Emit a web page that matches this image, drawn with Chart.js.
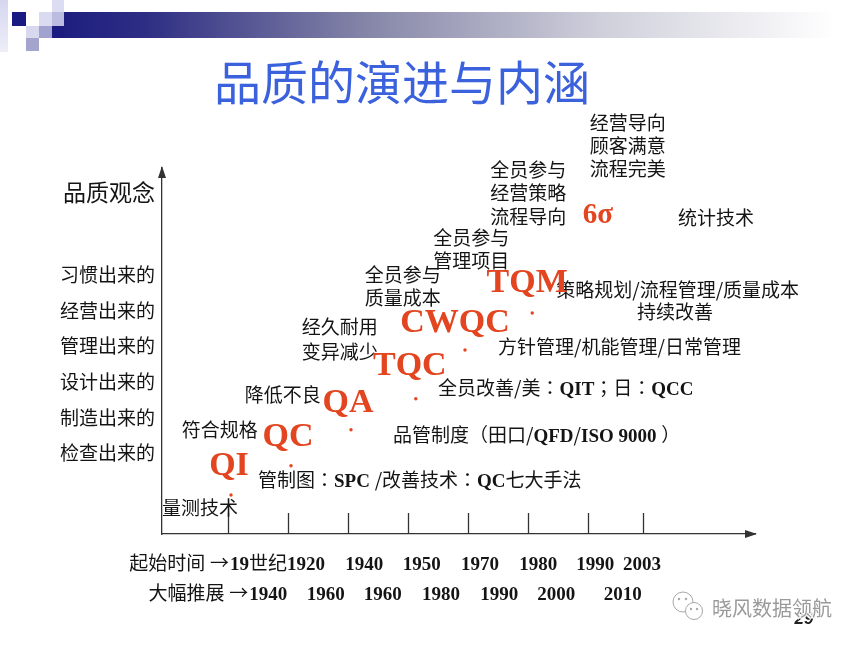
<!DOCTYPE html>
<html><head><meta charset="utf-8">
<script src="https://cdn.jsdelivr.net/npm/chart.js@4.4.0/dist/chart.umd.min.js"></script>
<style>html,body{margin:0;padding:0;background:#fff;}canvas{display:block;}</style>
</head><body>
<canvas id="c" width="864" height="647"></canvas>
<script>
// ---------- data ----------
const titleText = '品质的演进与内涵';
const conceptTitle = '品质观念';
const conceptLevels = ['检查出来的','制造出来的','设计出来的','管理出来的','经营出来的','习惯出来的'];
const stages = ['QI','QC','QA','TQC','CWQC','TQM','6σ'];
const stageX = [1.05, 2.05, 3.05, 4.13, 4.95, 6.07, 7.23];
const stageY = [-0.18, 0.64, 1.65, 2.52, 3.89, 4.93, 6.9];
const timeTicks = [1, 2, 3, 4, 5, 6, 7, 7.92];
const startPrefix = '起始时间 →';
const startLabels = ['19世纪','1920','1940','1950','1970','1980','1990','2003'];
const startLabelX = [1.51, 2.3, 3.27, 4.23, 5.2, 6.17, 7.12, 7.9];
const spreadPrefix = '大幅推展 →';
const spreadLabels = ['1940','1960','1960','1980','1990','2000','2010'];
const spreadLabelX = [1.67, 2.63, 3.58, 4.55, 5.52, 6.47, 7.58];
const notes = [
  ['量测技术', -0.1, -0.54],
  ['管制图：SPC /改善技术：QC七大手法', 1.5, 0.24],
  ['符合规格', 0.23, 1.65],
  ['品管制度（田口/QFD/ISO 9000 ）', 3.75, 1.5],
  ['降低不良', 1.28, 2.63],
  ['全员改善/美：QIT；日：QCC', 4.5, 2.83],
  ['经久耐用', 2.23, 4.54],
  ['变异减少', 2.23, 3.84],
  ['方针管理/机能管理/日常管理', 5.5, 3.98],
  ['全员参与', 3.28, 6.0],
  ['质量成本', 3.28, 5.35],
  ['策略规划/流程管理/质量成本', 6.47, 5.58],
  ['持续改善', 8.45, 4.96, 'center'],
  ['全员参与', 4.42, 7.04],
  ['管理项目', 4.42, 6.39],
  ['全员参与', 5.37, 8.95],
  ['经营策略', 5.37, 8.3],
  ['流程导向', 5.37, 7.63],
  ['经营导向', 7.03, 10.26],
  ['顾客满意', 7.03, 9.62],
  ['流程完美', 7.03, 8.97],
  ['统计技术', 8.5, 7.6]
];

// ---------- style ----------
const RED = '#e2451f';
const INK = '#141414';
const CJK = '"Noto Sans CJK SC"';
const PUNCT = '"Noto Sans CJK TC"';
const SERIF = '"Liberation Serif"';
const stageLabelOffset = [[-2,-20],[-3,-20],[-3,-18],[-6,-24],[-10,-18],[-5,-21],[-4,-20]];

function kind(ch) {
  if (/[A-Za-z0-9 .]/.test(ch)) return 'lat';
  if (/[：；]/.test(ch)) return 'pun';
  return 'cjk';
}
function fontFor(k, size) {
  if (k === 'lat') return `bold ${size}px ${SERIF}`;
  if (k === 'pun') return `${size}px ${PUNCT}`;
  return `${size}px ${CJK}`;
}
function runs(text) {
  const out = [];
  for (const ch of text) {
    const k = kind(ch);
    if (out.length && out[out.length-1].k === k) out[out.length-1].t += ch;
    else out.push({k, t: ch});
  }
  return out;
}
function richWidth(ctx, text, size) {
  let w = 0;
  for (const r of runs(text)) {
    ctx.font = fontFor(r.k, size);
    w += ctx.measureText(r.t).width;
  }
  return w;
}
function drawRich(ctx, text, x, cy, size, align, color) {
  const w = richWidth(ctx, text, size);
  let sx = align === 'center' ? x - w/2 : align === 'right' ? x - w : x;
  const base = cy + size * 0.37;
  ctx.fillStyle = color || INK;
  ctx.textAlign = 'left';
  ctx.textBaseline = 'alphabetic';
  for (const r of runs(text)) {
    ctx.font = fontFor(r.k, size);
    ctx.fillText(r.t, sx, base);
    sx += ctx.measureText(r.t).width;
  }
  return w;
}

const deco = {
  id: 'deco',
  beforeDraw(chart) {
    const ctx = chart.ctx;
    ctx.save();
    ctx.fillStyle = '#fff';
    ctx.fillRect(0, 0, chart.width, chart.height);
    // banner
    const g = ctx.createLinearGradient(52, 0, 835, 0);
    g.addColorStop(0, '#1c1c80');
    g.addColorStop(0.12, '#2e2e84');
    g.addColorStop(0.4, '#8585a8');
    g.addColorStop(0.7, '#cfcfdb');
    g.addColorStop(1, '#ffffff');
    ctx.fillStyle = g;
    ctx.fillRect(64, 12, 775, 26);
    ctx.fillStyle = '#1c1c80'; ctx.fillRect(52, 26, 12, 12);
    ctx.fillStyle = '#bcbce0'; ctx.fillRect(52, 12, 12, 14);
    ctx.fillStyle = '#dcdcf2'; ctx.fillRect(52, 0, 12, 12);
    ctx.fillStyle = '#dadaf0'; ctx.fillRect(39, 12, 13, 14);
    ctx.fillStyle = '#a2a2d0'; ctx.fillRect(39, 26, 13, 12);
    ctx.fillStyle = '#d8d8ee'; ctx.fillRect(26, 26, 13, 12);
    ctx.fillStyle = '#a4a4cc'; ctx.fillRect(26, 38, 13, 13);
    ctx.fillStyle = '#1a1a82'; ctx.fillRect(12, 12, 14, 14);
    const g2 = ctx.createLinearGradient(0, 0, 0, 52);
    g2.addColorStop(0, '#d6d6f0'); g2.addColorStop(1, '#eeeef8');
    ctx.fillStyle = g2; ctx.fillRect(0, 0, 8, 52);
    // title
    ctx.fillStyle = '#3b62dc';
    ctx.font = `47px ${CJK}`;
    ctx.textAlign = 'center';
    ctx.textBaseline = 'middle';
    ctx.fillText(titleText, 402, 82);
    ctx.restore();
  },
  afterDraw(chart) {
    const ctx = chart.ctx;
    const xs = chart.scales.x, ys = chart.scales.y;
    const a = chart.chartArea;
    ctx.save();
    // arrows
    ctx.fillStyle = '#333';
    ctx.beginPath();
    ctx.moveTo(a.left, a.top - 2); ctx.lineTo(a.left - 4, a.top + 10); ctx.lineTo(a.left + 4, a.top + 10);
    ctx.closePath(); ctx.fill();
    ctx.beginPath();
    ctx.moveTo(a.right + 2, a.bottom); ctx.lineTo(a.right - 10, a.bottom - 4); ctx.lineTo(a.right - 10, a.bottom + 4);
    ctx.closePath(); ctx.fill();
    // time tick marks (pointing up into the area)
    ctx.strokeStyle = '#333'; ctx.lineWidth = 1.3;
    for (const v of timeTicks) {
      const px = Math.round(xs.getPixelForValue(v)) + 0.5;
      ctx.beginPath(); ctx.moveTo(px, a.bottom); ctx.lineTo(px, a.bottom - 21); ctx.stroke();
    }
    // concept axis title
    ctx.fillStyle = INK;
    ctx.font = `23px ${CJK}`;
    ctx.textAlign = 'right'; ctx.textBaseline = 'middle';
    ctx.fillText(conceptTitle, a.left - 7, 192);
    // notes
    for (const n of notes) {
      drawRich(ctx, n[0], xs.getPixelForValue(n[1]), ys.getPixelForValue(n[2]), 19, n[3] || 'left');
    }
    // stage labels
    const meta = chart.getDatasetMeta(0);
    meta.data.forEach((pt, i) => {
      const sz = stages[i] === '6σ' ? 29 : 34;
      ctx.font = `bold ${sz}px ${SERIF}`;
      ctx.fillStyle = RED;
      ctx.textAlign = 'center'; ctx.textBaseline = 'alphabetic';
      ctx.fillText(stages[i], pt.x + stageLabelOffset[i][0], pt.y + stageLabelOffset[i][1]);
    });
    // time label rows
    const row = (labels, xv, prefix, cy) => {
      let firstLeft = null;
      labels.forEach((t, i) => {
        const cx = xs.getPixelForValue(xv[i]);
        const w = richWidth(ctx, t, 19);
        drawRich(ctx, t, cx, cy, 19, 'center');
        if (i === 0) firstLeft = cx - w / 2;
      });
      drawRich(ctx, prefix, firstLeft - 1, cy, 19, 'right');
    };
    row(startLabels, startLabelX, startPrefix, 563);
    row(spreadLabels, spreadLabelX, spreadPrefix, 593);
    // page number + watermark
    ctx.fillStyle = '#222';
    ctx.font = 'italic bold 17px "Liberation Sans"';
    ctx.textAlign = 'center'; ctx.textBaseline = 'middle';
    ctx.fillText('29', 804, 619);
    ctx.strokeStyle = '#a8a8a8'; ctx.lineWidth = 1;
    ctx.fillStyle = '#fff';
    ctx.beginPath(); ctx.arc(683, 602, 10, 0, Math.PI * 2); ctx.fill(); ctx.stroke();
    ctx.beginPath(); ctx.arc(694, 611, 8.5, 0, Math.PI * 2); ctx.fill(); ctx.stroke();
    ctx.fillStyle = '#a8a8a8';
    [[679,599],[686,599],[691,609],[697,609]].forEach(p => { ctx.beginPath(); ctx.arc(p[0], p[1], 1.2, 0, Math.PI*2); ctx.fill(); });
    ctx.font = `20px ${CJK}`;
    ctx.textAlign = 'left'; ctx.textBaseline = 'middle';
    ctx.lineWidth = 3; ctx.strokeStyle = 'rgba(255,255,255,0.9)';
    ctx.strokeText('晓风数据领航', 712, 608);
    ctx.fillStyle = '#9a9a9a';
    ctx.fillText('晓风数据领航', 712, 608);
    ctx.restore();
  }
};

new Chart(document.getElementById('c'), {
  type: 'scatter',
  data: {
    datasets: [{
      data: stages.map((s, i) => ({x: stageX[i], y: stageY[i]})),
      backgroundColor: RED,
      borderWidth: 0,
      pointRadius: ctx => stages[ctx.dataIndex] === '6σ' ? 0 : 1.7,
      pointHoverRadius: 0
    }]
  },
  options: {
    responsive: false,
    animation: false,
    events: [],
    layout: { padding: { left: 0, top: 168, right: 109, bottom: 113 } },
    plugins: { legend: { display: false }, tooltip: { enabled: false }, title: { display: false } },
    scales: {
      x: {
        type: 'linear', min: -0.1, max: 9.783,
        grid: { display: false },
        ticks: { display: false },
        border: { display: true, color: '#333', width: 1.3 },
        afterFit(s) { s.height = 0; }
      },
      y: {
        type: 'linear', min: -1.275, max: 9.0,
        grid: { display: false, drawTicks: false },
        border: { display: true, color: '#333', width: 1.3 },
        ticks: {
          padding: 7, color: INK, autoSkip: false,
          font: { family: CJK, size: 19 },
          callback: v => conceptLevels[v - 1] || ''
        },
        afterBuildTicks(s) { s.ticks = conceptLevels.map((_, i) => ({ value: i + 1 })); },
        afterFit(s) { s.width = 162; }
      }
    }
  },
  plugins: [deco]
});
</script>
</body></html>
